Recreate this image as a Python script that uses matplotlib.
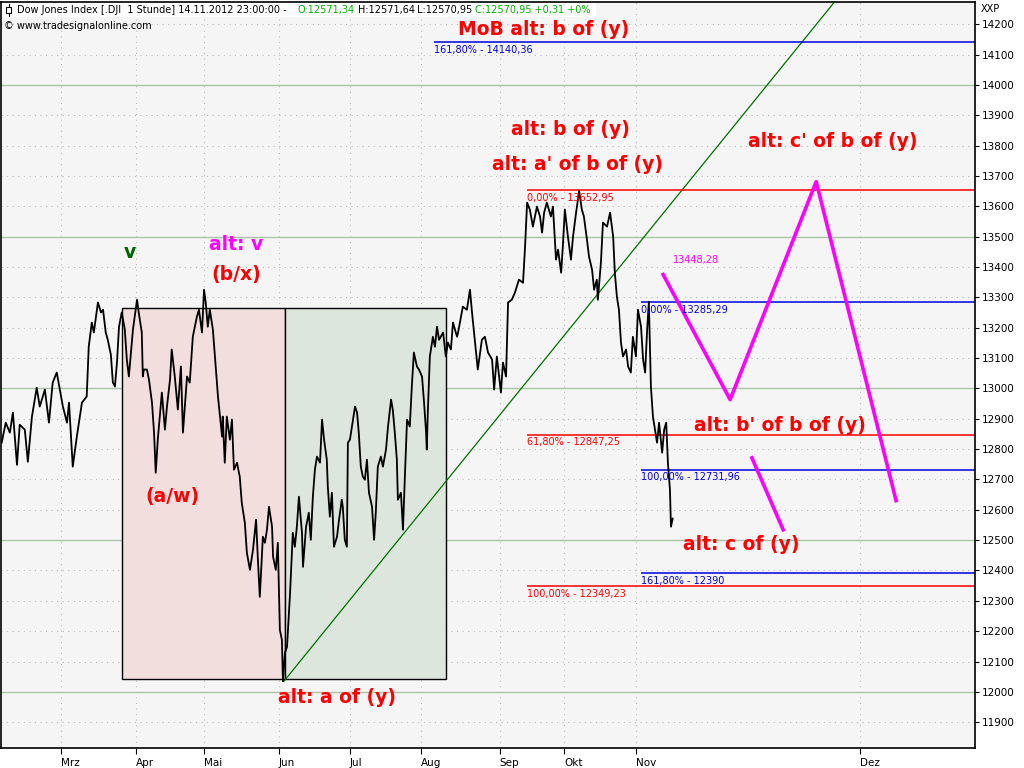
import matplotlib
matplotlib.use('Agg')
import matplotlib.pyplot as plt
from matplotlib.patches import Rectangle
from matplotlib.lines import Line2D

# trading-day index (0 = 1 Mar 2012) and Dow Jones hourly closes
price_t = [-17.4, -16.2, -15.0, -14.1, -12.9, -12.1, -10.6, -9.7, -8.5, -7.1, -6.2, -4.7, -3.5, -2.4, -1.2, -0.3,
           0.6, 1.8, 2.4, 3.5, 4.7, 6.2, 7.6, 8.2, 9.1, 9.7, 10.9, 11.8, 12.4, 13.2, 13.8, 14.7, 15.3, 15.9,
           16.5, 17.1, 17.9, 18.8, 19.4, 20.0, 21.2, 22.4, 22.9, 23.8, 24.1, 24.4, 25.3, 25.9, 26.8, 27.4,
           27.9, 28.5, 29.7, 30.6, 31.2, 32.1, 32.6, 33.5, 34.4, 35.3, 35.9, 37.1, 37.9, 38.8, 40.0, 40.6,
           41.5, 42.1, 42.6, 43.2, 43.8, 44.7, 45.6, 46.2, 47.4, 47.6, 48.2, 48.8, 49.7, 50.3, 50.9, 51.8,
           52.6, 53.2, 54.1, 54.7, 55.6, 56.5, 57.4, 57.9, 58.5, 59.4, 60.0, 60.6, 61.2, 62.1, 62.4, 63.2,
           63.8, 64.4, 65.0, 65.3, 65.9, 66.5, 67.4, 68.2, 68.8, 69.4, 70.0, 70.9, 71.2, 72.1, 72.9, 73.5,
           74.1, 74.7, 75.3, 76.2, 76.8, 77.4, 78.2, 78.5, 79.1, 79.7, 80.3, 81.2, 81.8, 82.6, 82.9, 83.5,
           84.1, 84.4, 85.0, 85.9, 86.5, 87.1, 87.6, 88.2, 88.8, 89.4, 90.0, 90.6, 91.5, 92.1, 92.6, 93.2,
           94.1, 94.7, 95.6, 96.2, 97.1, 97.6, 98.2, 98.8, 99.1, 100.0, 100.6, 101.2, 101.8, 102.6, 103.2,
           103.8, 104.7, 105.3, 106.2, 106.8, 107.4, 107.6, 107.9, 108.5, 109.4, 110.0, 110.6, 111.2, 112.4,
           113.2, 113.8, 114.7, 115.3, 116.5, 116.8, 118.2, 119.4, 120.3, 120.9, 121.8, 122.6, 123.8, 124.7,
           125.6, 126.8, 127.4, 128.2, 129.4, 130.0, 130.9, 131.5, 132.6, 133.5, 134.7, 135.9, 136.5, 137.1,
           137.9, 138.8, 140.0, 140.9, 141.5, 142.1, 142.9, 144.1, 144.7, 145.6, 146.2, 147.1, 147.6, 148.2,
           149.1, 150.0, 150.6, 151.5, 152.4, 153.2, 153.8, 154.7, 155.3, 156.2, 156.8, 157.6, 157.9, 158.8,
           159.4, 160.6, 161.5, 162.4, 162.9, 163.5, 164.1, 164.7, 165.3, 166.2, 166.8, 167.6, 168.2, 169.1,
           169.7, 170.6, 171.2, 171.8, 172.4, 172.9, 173.5, 174.1, 174.7, 175.3, 175.9, 176.8, 177.4, 178.0,
           178.5, 179.1, 179.4, 179.7, 179.9]
price_v = [12821, 12887, 12854, 12920, 12748, 12880, 12864, 12758, 12907, 13002, 12940, 12996, 12887, 13019, 13052, 12996,
           12940, 12887, 12953, 12742, 12841, 12953, 12973, 13137, 13217, 13184, 13283, 13250, 13259, 13184, 13160, 13111, 13019, 13006,
           13085, 13203, 13250, 13194, 13095, 13039, 13194, 13292, 13250, 13184, 13039, 13062, 13062, 13029, 12953, 12854,
           12722, 12831, 12986, 12864, 12940, 13029, 13128, 13039, 12930, 13072, 12854, 13039, 13019, 13170, 13236, 13259,
           13184, 13325, 13283, 13203, 13259, 13194, 13062, 12973, 12841, 12907, 12755, 12907, 12831, 12897, 12732, 12755,
           12709, 12623, 12557, 12458, 12402, 12468, 12567, 12445, 12313, 12511, 12491, 12534, 12610, 12544, 12445, 12402,
           12491, 12204, 12171, 12035, 12129, 12148, 12326, 12524, 12478, 12544, 12643, 12524, 12412, 12544, 12590, 12501,
           12643, 12732, 12775, 12755, 12897, 12831, 12765, 12676, 12577, 12656, 12478, 12511, 12567, 12633, 12610, 12501,
           12478, 12821, 12831, 12897, 12940, 12920, 12854, 12742, 12709, 12699, 12765, 12656, 12610, 12501, 12590, 12742,
           12775, 12742, 12798, 12874, 12963, 12930, 12854, 12765, 12633, 12656, 12534, 12722, 12897, 12874, 13006,
           13118, 13072, 13062, 13039, 12953, 12854, 12798, 12920, 13105, 13170, 13137, 13203, 13160, 13184,
           13105, 13151, 13128, 13217, 13170, 13184, 13269, 13259, 13325, 13250, 13151, 13062, 13160, 13170,
           13118, 13095, 12996, 13105, 12986, 13085, 13039, 13283, 13292, 13315, 13358, 13348, 13467, 13612,
           13589, 13533, 13599, 13566, 13513, 13579, 13612, 13566, 13599, 13424, 13457, 13381, 13467, 13589,
           13500, 13424, 13500, 13579, 13650, 13589, 13566, 13490, 13434, 13391, 13325, 13358, 13292, 13414,
           13546, 13533, 13579, 13500, 13381, 13302, 13259, 13151, 13105, 13128, 13072, 13052, 13170, 13105,
           13259, 13203, 13095, 13052, 13194, 13285, 13006, 12907, 12864, 12821, 12887, 12788, 12864, 12887,
           12755, 12666, 12544, 12560, 12571]

month_labels = ['Mrz', 'Apr', 'Mai', 'Jun', 'Jul', 'Aug', 'Sep', 'Okt', 'Nov', 'Dez']
month_pos = [0, 22, 42, 64, 85, 106, 129, 148, 169, 235]

# fibonacci levels: (start index, value, label, colour)
fib_start = [109.7, 137.1, 137.1, 137.1, 170.6, 170.6, 170.6]
fib_value = [14140.36, 13652.95, 12847.25, 12349.23, 13285.29, 12731.96, 12390]
fib_label = ['161,80% - 14140,36', '0,00% - 13652,95', '61,80% - 12847,25', '100,00% - 12349,23',
             '0,00% - 13285,29', '100,00% - 12731,96', '161,80% - 12390']
fib_color = ['#0000e0', '#ff0000', '#ff0000', '#ff0000', '#0000e0', '#0000e0', '#0000e0']

# boxes
box_t = [17.9, 65.9, 113.2]
box_low, box_high = 12043, 13266

# trend line from June low
trend_t = [65.6, 227.4]
trend_v = [12035, 14272]

# projected path
proj_t = [177.1, 196.8, 222.1, 245.6]
proj_v = [13375, 12963, 13681, 12630]
proj2_t = [203.2, 212.4]
proj2_v = [12771, 12534]

# wave labels
wave_text = ['MoB alt: b of (y)', 'alt: b of (y)', "alt: a' of b of (y)", "alt: c' of b of (y)",
             "alt: b' of b of (y)", 'alt: c of (y)', 'alt: a of (y)', '(a/w)', '(b/x)', 'alt: v', 'v']
wave_t = [142.1, 149.7, 151.8, 227.1, 211.5, 200.0, 81.2, 32.9, 51.5, 51.5, 20.3]
wave_v = [14183, 13853, 13738, 13813, 12877, 12485, 11980, 12643, 13375, 13474, 13447]
wave_color = ['#ff0000'] * 9 + ['#ff00ff', '#006400']

fig = plt.figure(figsize=(10.24, 7.68), dpi=100)
ax = fig.add_axes([1 / 1024, 20 / 768, 974 / 1024, 746 / 768])
ax.set_facecolor('#f5f5f5')
ax.set_xlim(-17.6, 268.8)
ax.set_ylim(11815, 14273)

# grid
yt = list(range(11900, 14201, 100))
for v in yt:
    if v % 500 == 0:
        ax.axhline(v, color='#a9c4a4', lw=1, zorder=0.5)
    else:
        ax.axhline(v, color='#b8b8b8', lw=0.8, ls=(0, (1, 4)), zorder=0.5)
for p in month_pos:
    ax.axvline(p, color='#b8c0b8', lw=0.8, ls=(0, (1, 4)), zorder=0.5)

ax.add_patch(Rectangle((box_t[0], box_low), box_t[1] - box_t[0], box_high - box_low,
                       facecolor='#f3dede', edgecolor='black', lw=1, zorder=1))
ax.add_patch(Rectangle((box_t[1], box_low), box_t[2] - box_t[1], box_high - box_low,
                       facecolor='#dde6dd', edgecolor='black', lw=1, zorder=1))

ax.plot(trend_t, trend_v, color='#007000', lw=0.9, zorder=2)

for t0, v, lab, c in zip(fib_start, fib_value, fib_label, fib_color):
    ax.hlines(v, t0, 268.8, color=c, lw=1.1, zorder=2)
    ax.annotate(lab, (t0, v), xytext=(0, -2), textcoords='offset points',
                ha='left', va='top', fontsize=7, color=c, zorder=4)

ax.plot(price_t, price_v, color='black', lw=1.3, zorder=3)

ax.plot(proj_t, proj_v, color='#ff00ff', lw=2.6, zorder=3)
ax.plot(proj2_t, proj2_v, color='#ff00ff', lw=2.6, zorder=3)
ax.text(180.0, 13424, '13448,28', color='#ff00ff', fontsize=7, ha='left', va='center', zorder=4)

for s, t, v, c in zip(wave_text, wave_t, wave_v, wave_color):
    ax.text(t, v, s, color=c, fontsize=13.5, fontweight='bold', ha='center', va='center', zorder=5)

# axes styling
ax.yaxis.tick_right()
ax.set_yticks(yt)
ax.set_yticklabels([str(v) for v in yt])
ax.tick_params(axis='y', length=3, pad=2, labelsize=7.5, color='black')
ax.set_xticks(month_pos)
ax.set_xticklabels(month_labels)
ax.tick_params(axis='x', length=4, pad=3, labelsize=7.5, color='black')
for lab in ax.get_xticklabels():
    lab.set_ha('left')
for sp in ax.spines.values():
    sp.set_color('black')
    sp.set_linewidth(1.2)

# header
fig.patches.append(Rectangle((2 / 1024, 1 - 17 / 768), 594 / 1024, 14 / 768, transform=fig.transFigure,
                             facecolor='white', edgecolor='none', zorder=5))
fig.patches.append(Rectangle((6 / 1024, 1 - 13 / 768), 5 / 1024, 6 / 768, transform=fig.transFigure,
                             facecolor='white', edgecolor='black', lw=0.8, zorder=6))
fig.lines.append(Line2D([8.5 / 1024, 8.5 / 1024], [1 - 16 / 768, 1 - 4 / 768], transform=fig.transFigure,
                        color='black', lw=0.8, zorder=6))
hy = 1 - 10 / 768
fig.text(17 / 1024, hy, 'Dow Jones Index [.DJI  1 Stunde] 14.11.2012 23:00:00 -', fontsize=7, va='center', zorder=7)
fig.text(297 / 1024, hy, 'O:12571,34', fontsize=7, va='center', color='#00b000', zorder=7)
fig.text(358 / 1024, hy, 'H:12571,64', fontsize=7, va='center', zorder=7)
fig.text(417 / 1024, hy, 'L:12570,95', fontsize=7, va='center', zorder=7)
fig.text(475 / 1024, hy, 'C:12570,95 +0,31 +0%', fontsize=7, va='center', color='#00b000', zorder=7)
fig.text(4 / 1024, 1 - 26 / 768, '© www.tradesignalonline.com', fontsize=7, va='center', zorder=7)
fig.text(981 / 1024, 1 - 9 / 768, 'XXP', fontsize=7, va='center', zorder=7)

fig.savefig('out.png', dpi=100, facecolor='white')
